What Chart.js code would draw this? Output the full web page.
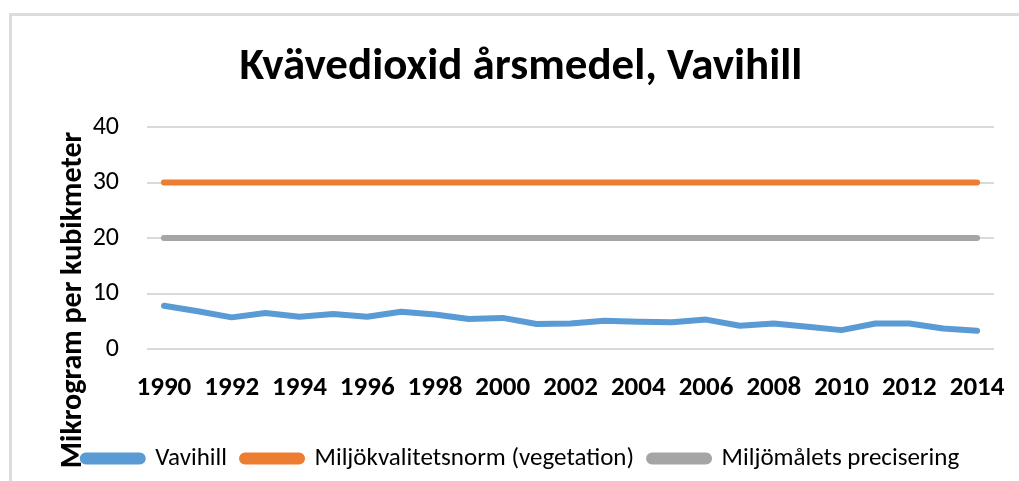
<!DOCTYPE html>
<html>
<head>
<meta charset="utf-8">
<script src="https://cdn.jsdelivr.net/npm/chart.js@4.4.1/dist/chart.umd.min.js"></script>
<style>
  html, body { margin: 0; padding: 0; background: #fff; }
  #wrap { position: relative; width: 1019px; height: 481px; overflow: hidden; }
  /* the grey frame of the pasted chart, only top and left edges are visible */
  #frame { position: absolute; left: 9px; top: 13px; width: 1100px; height: 600px;
           border-left: 3px solid #dcdcdc; border-top: 3px solid #dcdcdc; }
  canvas { position: absolute; left: 0; top: 0; }
</style>
</head>
<body>
<div id="wrap">
  <div id="frame"></div>
  <canvas id="chart" width="1019" height="481"></canvas>
</div>
<script>
// data
const years = ["1990","1991","1992","1993","1994","1995","1996","1997","1998","1999","2000","2001","2002",
               "2003","2004","2005","2006","2007","2008","2009","2010","2011","2012","2013","2014"];
const vavihill = [7.8, 6.8, 5.7, 6.5, 5.8, 6.3, 5.8, 6.7, 6.2, 5.4, 5.6, 4.5, 4.6,
                  5.1, 4.9, 4.8, 5.3, 4.2, 4.6, 4.0, 3.4, 4.6, 4.6, 3.7, 3.3];
const normVegetation = [30,30,30,30,30,30,30,30,30,30,30,30,30,30,30,30,30,30,30,30,30,30,30,30,30];
const precisering = [20,20,20,20,20,20,20,20,20,20,20,20,20,20,20,20,20,20,20,20,20,20,20,20,20];
const yTicks = [0, 10, 20, 30, 40];

const FONT = "Carlito, Lato, 'Liberation Sans', sans-serif";

// y axis title is drawn by hand, Excel centres it lower than the plot area
const yTitlePlugin = {
  id: "yTitle",
  afterDraw(chart) {
    const ctx = chart.ctx;
    ctx.save();
    ctx.translate(73, 300);
    ctx.rotate(-Math.PI / 2);
    ctx.font = "bold 30px " + FONT;
    ctx.fillStyle = "#000";
    ctx.textAlign = "center";
    ctx.textBaseline = "middle";
    ctx.fillText("Mikrogram per kubikmeter", 0, 0);
    ctx.restore();
  }
};

function lineSet(label, data, colour) {
  return {
    label: label,
    data: data,
    borderColor: colour,
    backgroundColor: colour,
    borderWidth: 6,
    borderCapStyle: "round",
    borderJoinStyle: "round",
    pointRadius: 0,
    tension: 0,
    fill: false
  };
}

new Chart(document.getElementById("chart"), {
  type: "line",
  data: {
    labels: years,
    datasets: [
      lineSet("Vavihill", vavihill, "#5b9bd5"),
      lineSet("Miljökvalitetsnorm (vegetation)", normVegetation, "#ed7d31"),
      lineSet("Miljömålets precisering", precisering, "#a5a5a5")
    ]
  },
  options: {
    responsive: false,
    animation: false,
    layout: { padding: { left: 36, right: 13, top: 0, bottom: 0 } },
    plugins: {
      tooltip: { enabled: false },
      title: {
        display: true,
        text: "Kvävedioxid årsmedel, Vavihill",
        color: "#000",
        font: { family: FONT, size: 45, weight: "bold", lineHeight: 1.2 },
        padding: { top: 41, bottom: 32 }
      },
      legend: {
        position: "bottom",
        labels: {
          color: "#000",
          font: { family: FONT, size: 25 },
          boxWidth: 60,
          boxHeight: 6,
          useBorderRadius: true,
          borderRadius: 3,
          padding: 15
        }
      }
    },
    scales: {
      x: {
        offset: true,
        grid: { display: false },
        border: { display: false },
        ticks: {
          autoSkip: false,
          maxRotation: 0,
          padding: 15,
          color: "#000",
          font: { family: FONT, size: 27, weight: "bold" },
          callback: function (v, i) { return i % 2 === 0 ? years[i] : ""; }
        },
        afterFit: function (scale) {
          scale.height = 82;
          scale.paddingLeft = 0;
          scale.paddingRight = 25;
        }
      },
      y: {
        min: 0,
        max: 40,
        afterBuildTicks: function (scale) { scale.ticks = yTicks.map(v => ({ value: v })); },
        grid: { color: "#d9d9d9", lineWidth: 2, drawTicks: false },
        border: { display: false },
        ticks: {
          padding: 28,
          color: "#000",
          font: { family: FONT, size: 26 }
        },
        afterFit: function (scale) { scale.width = 111; }
      }
    }
  },
  plugins: [yTitlePlugin]
});
</script>
</body>
</html>
